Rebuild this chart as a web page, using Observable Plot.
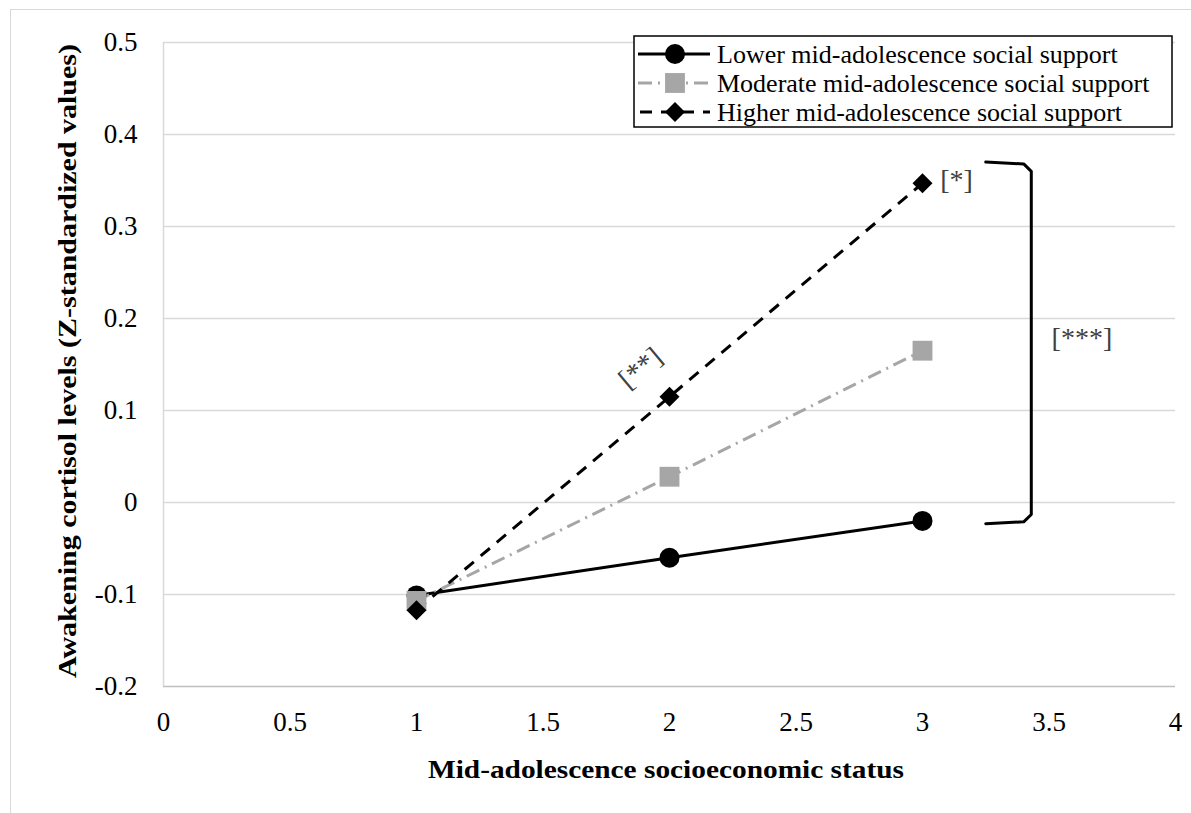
<!DOCTYPE html>
<html><head><meta charset="utf-8">
<script src="https://cdn.jsdelivr.net/npm/d3@7"></script>
<script src="https://cdn.jsdelivr.net/npm/@observablehq/plot@0.6"></script>
<style>
body{margin:0;background:#fff;}
#wrap{position:relative;width:1191px;height:813px;overflow:hidden;background:#fff;}
#border{position:absolute;left:10px;top:9px;width:1300px;height:1000px;border:1.5px solid #d9d9d9;box-sizing:border-box;}
#chart{position:absolute;left:0;top:0;}
#legend{position:absolute;left:0;top:0;}
svg text, svg{font-family:"Liberation Serif","Times New Roman","DejaVu Serif",serif !important;}
</style></head><body>
<div id="wrap"><div id="border"></div><div id="chart"></div><svg id="legend" width="1191" height="813" style="pointer-events:none"></svg></div>
<script>
// ---- data ----
const ses = [1, 2, 3];
const lowerSupport = [-0.101, -0.060, -0.020];
const moderateSupport = [-0.107, 0.028, 0.165];
const higherSupport = [-0.117, 0.115, 0.347];
const seriesNames = ["Lower mid-adolescence social support", "Moderate mid-adolescence social support", "Higher mid-adolescence social support"];
const xTicks = [0, 0.5, 1, 1.5, 2, 2.5, 3, 3.5, 4];
const yTicks = [-0.2, -0.1, 0, 0.1, 0.2, 0.3, 0.4, 0.5];
const xTitle = "Mid-adolescence socioeconomic status";
const yTitle = "Awakening cortisol levels (Z-standardized values)";
// significance bracket and labels (data units)
const bracketX = [3.25, 3.40, 3.43, 3.43, 3.40, 3.25];
const bracketY = [0.370, 0.368, 0.36, -0.013, -0.021, -0.023];
const sigLabels = ["[*]", "[**]", "[***]"];
const sigX = [3.07, 1.885, 3.63];
const sigY = [0.351, 0.146, 0.179];

// ---- styling ----
const FONT = '"Liberation Serif","Times New Roman","DejaVu Serif",serif';
const styles = [
  {stroke: "#000", dash: null, symbol: "circle", r: 10, fill: "#000"},
  {stroke: "#a6a6a6", dash: "14,6,2,6", symbol: "square", r: 11.2, fill: "#a6a6a6"},
  {stroke: "#000", dash: "12,9", symbol: "diamond2", r: 9, fill: "#000"}
];
const values = [lowerSupport, moderateSupport, higherSupport];
const series = values.map((vals, i) => ses.map((x, j) => ({x, y: vals[j], s: seriesNames[i]})));

const W = 1191, H = 813, ML = 163, MR = 16, MT = 42, MB = 127;
const fmt = d => String(Math.round(d * 10) / 10);

const marks = [
  Plot.ruleY(yTicks.filter(d => d > -0.2), {stroke: "#d9d9d9", strokeWidth: 1.5}),
  Plot.ruleY([-0.2], {stroke: "#bfbfbf", strokeWidth: 1.5}),
  Plot.ruleX([0], {stroke: "#d9d9d9", strokeWidth: 1.5}),
  Plot.axisX(xTicks, {tickSize: 0, tickPadding: 25, tickFormat: fmt, fontSize: 27, label: null}),
  Plot.axisY(yTicks, {tickSize: 0, tickPadding: 26, tickFormat: fmt, fontSize: 27, label: null})
];
series.forEach((data, i) => {
  const st = styles[i];
  marks.push(Plot.line(data, {x: "x", y: "y", stroke: st.stroke, strokeWidth: 3, strokeDasharray: st.dash, strokeLinecap: "butt"}));
});
series.forEach((data, i) => {
  const st = styles[i];
  marks.push(Plot.dot(data, {x: "x", y: "y", symbol: st.symbol, r: st.r, fill: st.fill, stroke: null}));
});
const bracket = bracketX.map((x, i) => ({x, y: bracketY[i]}));
marks.push(Plot.line(bracket, {x: "x", y: "y", stroke: "#000", strokeWidth: 3, curve: "linear"}));
const sig = sigLabels.map((t, i) => ({t, x: sigX[i], y: sigY[i]}));
marks.push(Plot.text(sig.filter(d => d.t === "[*]"), {x: "x", y: "y", text: "t", textAnchor: "start", fontSize: 28, fill: "#404040"}));
marks.push(Plot.text(sig.filter(d => d.t === "[**]"), {x: "x", y: "y", text: "t", rotate: -40, fontSize: 28, fill: "#404040"}));
marks.push(Plot.text(sig.filter(d => d.t === "[***]"), {x: "x", y: "y", text: "t", fontSize: 28, fill: "#404040"}));

const chart = Plot.plot({
  width: W, height: H,
  marginLeft: ML, marginRight: MR, marginTop: MT, marginBottom: MB,
  style: {fontFamily: FONT, fontSize: "27px", background: "transparent", color: "#000"},
  x: {domain: [0, 4]},
  y: {domain: [-0.2, 0.5]},
  marks
});
document.getElementById("chart").appendChild(chart);

// axis titles
const svg = d3.select(chart);
svg.append("text").attr("x", (ML + W - MR) / 2 - 3).attr("y", 778)
  .attr("text-anchor", "middle").attr("font-weight", "bold").attr("font-size", 26)
  .attr("textLength", 476).attr("lengthAdjust", "spacingAndGlyphs")
  .attr("font-family", FONT).attr("fill", "#000").text(xTitle);
svg.append("text").attr("transform", "translate(76,361) rotate(-90)")
  .attr("text-anchor", "middle").attr("font-weight", "bold").attr("font-size", 26)
  .attr("textLength", 634).attr("lengthAdjust", "spacingAndGlyphs")
  .attr("font-family", FONT).attr("fill", "#000").text(yTitle);

// legend
const lg = d3.select("#legend").append("g").attr("font-family", FONT);
const LX = 634, LY = 36, LW = 538, LH = 91;
lg.append("rect").attr("x", LX).attr("y", LY).attr("width", LW).attr("height", LH)
  .attr("fill", "#fff").attr("stroke", "#000").attr("stroke-width", 1.5);
const sym = {circle: d3.symbolCircle, square: d3.symbolSquare, diamond2: d3.symbolDiamond2};
seriesNames.forEach((name, i) => {
  const st = styles[i];
  const cy = LY + 18 + i * 29;
  const ln = lg.append("line").attr("x1", LX + 4).attr("x2", LX + 76).attr("y1", cy).attr("y2", cy)
    .attr("stroke", st.stroke).attr("stroke-width", 3);
  if (i === 1) ln.attr("stroke-dasharray", "14,6,2,6").attr("stroke-dashoffset", 0);
  if (i === 2) ln.attr("stroke-dasharray", "12,9").attr("stroke-dashoffset", -2);
  lg.append("path").attr("transform", `translate(${LX + 41},${cy})`)
    .attr("d", d3.symbol(sym[st.symbol], Math.PI * st.r * st.r)())
    .attr("fill", st.fill);
  lg.append("text").attr("x", LX + 83).attr("y", cy).attr("dy", "0.35em")
    .attr("font-size", 26).attr("fill", "#000").text(name);
});
</script>
</body></html>
